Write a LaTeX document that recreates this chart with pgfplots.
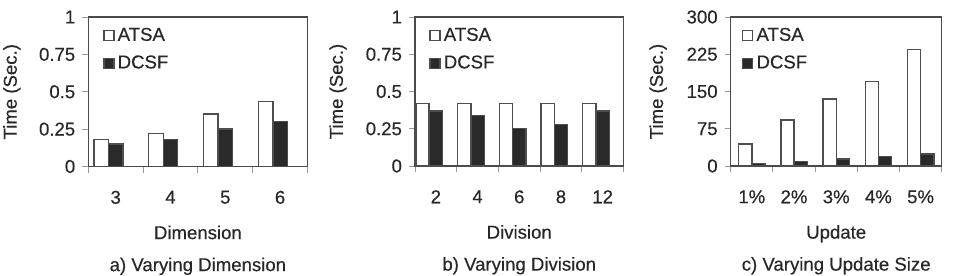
\documentclass[border=0pt]{standalone}
\usepackage{pgfplots}
\pgfplotsset{compat=1.18}
\usepackage{pgfplotstable}
\usepackage{fontspec}
\setmainfont{Liberation Sans}[FakeBold=0.4]

\definecolor{txt}{HTML}{282828}
\definecolor{frame}{HTML}{4A4A4A}
\definecolor{barline}{HTML}{4E4E4E}
\definecolor{darkbar}{HTML}{2A2A2A}
\definecolor{tickc}{HTML}{9A9A9A}

% a) time against dimension
\pgfplotstableread{
x atsa dcsf
0 0.18 0.15
1 0.22 0.18
2 0.35 0.25
3 0.435 0.30
}\dimtab
% b) time against division
\pgfplotstableread{
x atsa dcsf
0 0.42 0.37
1 0.42 0.34
2 0.42 0.25
3 0.42 0.28
4 0.42 0.37
}\divtab
% c) time against update size
\pgfplotstableread{
x atsa dcsf
0 44 5
1 93 9.5
2 135 14.5
3 170 19.5
4 234 24
}\updtab

\pgfplotsset{
  panel/.style={
    scale only axis,
    anchor=south west,
    font=\fontsize{9.3}{11}\selectfont,
    /pgf/number format/assume math mode=true,
    color=txt,
    axis line style={draw=frame, line width=0.7pt},
    tick align=outside,
    xtick pos=bottom, ytick pos=left,
    major tick length=3pt,
    minor tick length=3pt,
    every tick/.style={draw=tickc, line width=0.5pt},
    x tick style={draw=none},
    minor x tick style={draw=tickc, line width=0.5pt},
    xmin=-0.5,
    ymin=0,
    xticklabel style={anchor=north, yshift=-5.6pt},
    yticklabel style={anchor=east},
    every axis x label/.style={at={(axis description cs:0.5,0)}, anchor=base, yshift=-36.3pt},
    every axis y label/.style={at={(axis description cs:0,0.5)}, rotate=90, anchor=center},
    legend cell align=left,
    legend image code/.code={\draw[#1, line width=0.6pt] (0pt,-2.5pt) rectangle (5pt,2.5pt);},
    legend style={at={(axis description cs:0,1)}, anchor=north west,
      draw=none, fill=none, row sep=4.6pt, inner sep=0pt, column sep=1pt,
      nodes={inner sep=0.6pt, text=txt}, font=\fontsize{9.3}{11}\selectfont},
  },
  atsa/.style={ybar, fill=white, draw=barline, line width=0.7pt},
  dcsf/.style={ybar, fill=darkbar, draw=barline, line width=0.7pt},
}

\begin{document}
\begin{tikzpicture}
\useasboundingbox (0,0) rectangle (481pt,137.5pt);

\begin{axis}[panel, name=pa,
  at={(44.15pt,54.25pt)}, width=109.6pt, height=74.75pt,
  xmax=3.5, ymax=1,
  xtick={0,1,2,3}, xticklabels={3,4,5,6},
  minor xtick={-0.5,0.5,1.5,2.5,3.5},
  ytick={0,0.25,0.5,0.75,1}, yticklabels={0,0.25,0.5,0.75,1},
  xlabel={Dimension}, ylabel={Time (Sec.)},
  ylabel style={yshift=38.2pt},
  legend style={xshift=7.3pt, yshift=-4.6pt},
  bar width=0.264,
]
\addplot[atsa, bar shift=-0.264] table[x=x, y=atsa] {\dimtab};
\addplot[dcsf, bar shift=0] table[x=x, y=dcsf] {\dimtab};
\legend{ATSA, DCSF}
\end{axis}
\node[anchor=base, text=txt, font=\fontsize{9.3}{11}\selectfont] at ([yshift=-52.3pt]pa.south) {a) Varying Dimension};

\begin{axis}[panel, name=pb,
  at={(207.5pt,54.5pt)}, width=104.25pt, height=74.5pt,
  xmax=4.5, ymax=1,
  xtick={0,1,2,3,4}, xticklabels={2,4,6,8,12},
  minor xtick={-0.5,0.5,1.5,2.5,3.5,4.5},
  ytick={0,0.25,0.5,0.75,1}, yticklabels={0,0.25,0.5,0.75,1},
  xlabel={Division}, ylabel={Time (Sec.)},
  ylabel style={yshift=38.5pt},
  legend style={xshift=7pt, yshift=-4.6pt},
  bar width=0.32,
]
\addplot[atsa, bar shift=-0.32] table[x=x, y=atsa] {\divtab};
\addplot[dcsf, bar shift=0] table[x=x, y=dcsf] {\divtab};
\legend{ATSA, DCSF}
\end{axis}
\node[anchor=base, text=txt, font=\fontsize{9.3}{11}\selectfont] at ([yshift=-52.3pt]pb.south) {b) Varying Division};

\begin{axis}[panel, name=pc,
  at={(365.35pt,54.5pt)}, width=105.5pt, height=74.5pt,
  xmax=4.5, ymax=300,
  xtick={0,1,2,3,4}, xticklabels={1\%,2\%,3\%,4\%,5\%},
  minor xtick={-0.5,0.5,1.5,2.5,3.5,4.5},
  ytick={0,75,150,225,300}, yticklabels={0,75,150,225,300},
  xlabel={Update}, ylabel={Time (Sec.)},
  ylabel style={yshift=36.3pt},
  legend style={xshift=5.5pt, yshift=-4.6pt},
  bar width=0.313,
]
\addplot[atsa, bar shift=-0.1565] table[x=x, y=atsa] {\updtab};
\addplot[dcsf, bar shift=0.1565] table[x=x, y=dcsf] {\updtab};
\legend{ATSA, DCSF}
\end{axis}
\node[anchor=base, text=txt, font=\fontsize{9.3}{11}\selectfont] at ([yshift=-52.3pt]pc.south) {c) Varying Update Size};

\end{tikzpicture}
\end{document}
